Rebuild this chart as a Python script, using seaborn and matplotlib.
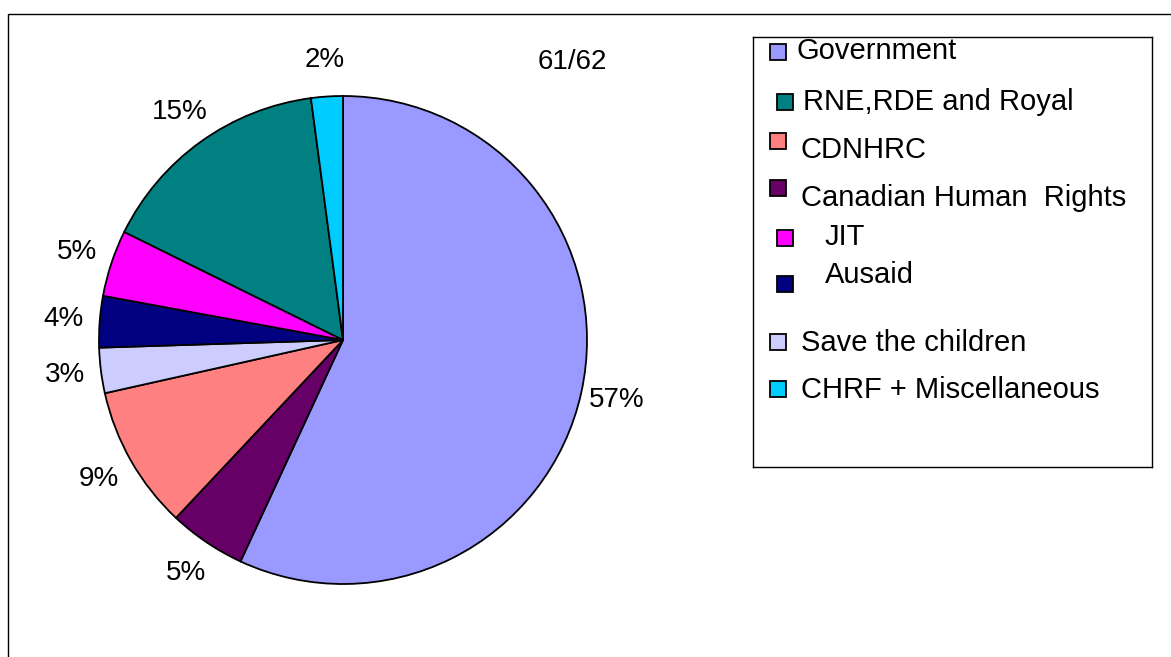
import numpy as np
import matplotlib
matplotlib.use("Agg")
import matplotlib.pyplot as plt
from matplotlib.patches import Rectangle
import seaborn as sns

# slices in clockwise order from 12 o'clock
pie_labels = ["Government", "Canadian Human  Rights", "CDNHRC", "Save the children",
              "Ausaid", "JIT", "RNE,RDE and Royal", "CHRF + Miscellaneous"]
pie_values = [56.9, 5.1, 9.5, 3.0, 3.4, 4.4, 15.6, 2.1]
pct_text = ["57%", "5%", "9%", "3%", "4%", "5%", "15%", "2%"]

# legend order as shown
legend_labels = ["Government", "RNE,RDE and Royal", "CDNHRC", "Canadian Human  Rights",
                 "JIT", "Ausaid", "Save the children", "CHRF + Miscellaneous"]

colors = {
    "Government": "#9999FF",
    "RNE,RDE and Royal": "#008080",
    "CDNHRC": "#FF8080",
    "Canadian Human  Rights": "#660066",
    "JIT": "#FF00FF",
    "Ausaid": "#000080",
    "Save the children": "#CCCCFF",
    "CHRF + Miscellaneous": "#00CCFF",
}

sns.set_theme(style="white")
plt.rcParams["font.family"] = ["Liberation Sans", "DejaVu Sans"]
plt.rcParams["text.color"] = "black"

W, H = 1171, 657
fig = plt.figure(figsize=(W / 100, H / 100), dpi=100)

# outer frame
fig.add_artist(Rectangle((8 / W, -0.05), 1.2, 1 - 14 / H + 0.05, transform=fig.transFigure,
                         fill=False, edgecolor="black", linewidth=1.0))

# pie axes: center (343, 340) px, radius 244 px
cx, cy, r = 343, 340, 244
half = 1.25 * r
ax = fig.add_axes([(cx - half) / W, (H - cy - half) / H, 2 * half / W, 2 * half / H])
wedges, _ = ax.pie(pie_values, colors=[colors[l] for l in pie_labels], startangle=90,
                   counterclock=False,
                   wedgeprops=dict(edgecolor="black", linewidth=1.3))
ax.set_xlim(-1.25, 1.25)
ax.set_ylim(-1.25, 1.25)
ax.set_aspect("equal")
ax.axis("off")

for w, t in zip(wedges, pct_text):
    ang = np.deg2rad((w.theta1 + w.theta2) / 2)
    ax.text(1.15 * np.cos(ang), 1.15 * np.sin(ang), t, ha="center", va="center",
            fontsize=20, color="black")

fig.text(572 / W, 1 - 62 / H, "61/62", ha="center", va="center", fontsize=20, color="black")

# legend box
lx0, ly0, lx1, ly1 = 753, 37, 1152, 467
lax = fig.add_axes([lx0 / W, (H - ly1) / H, (lx1 - lx0) / W, (ly1 - ly0) / H])
lax.set_xlim(0, lx1 - lx0)
lax.set_ylim(ly1 - ly0, 0)
lax.set_xticks([])
lax.set_yticks([])
for s in lax.spines.values():
    s.set_visible(True)
    s.set_color("black")
    s.set_linewidth(1.0)

marker_pos = [(25, 15), (32, 65), (25, 104), (25, 151), (32, 201), (32, 247), (25, 305), (25, 352)]
text_pos = [(44, 14), (50, 65), (48, 113), (48, 161), (72, 200), (72, 238), (48, 306), (48, 353)]
ms = 16
for lab, (mx, my), (tx, ty) in zip(legend_labels, marker_pos, text_pos):
    lax.add_patch(Rectangle((mx - ms / 2, my - ms / 2), ms, ms, facecolor=colors[lab],
                            edgecolor="black", linewidth=1.3))
    lax.text(tx, ty, lab, ha="left", va="center", fontsize=21, color="black")

fig.savefig("out.png", dpi=100)
